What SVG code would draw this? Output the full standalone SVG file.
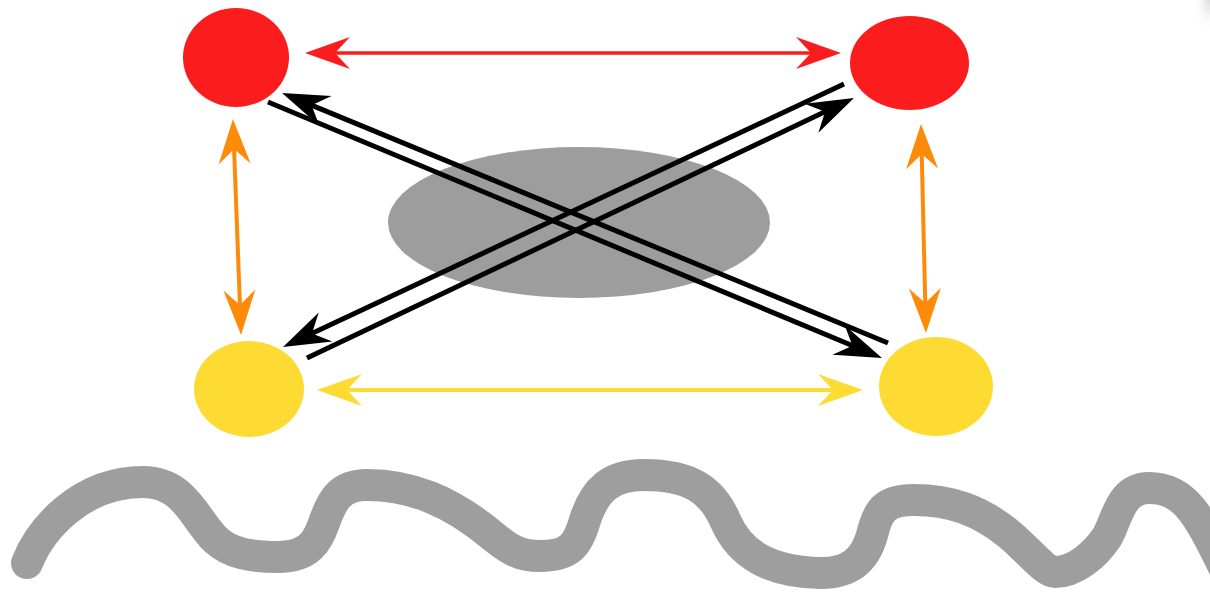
<svg xmlns="http://www.w3.org/2000/svg" width="1210" height="592" viewBox="0 0 1210 592">
  <style>
    .red { fill: #fb1d1d; }
    .yellow { fill: #fddb33; }
    .hub { fill: #9d9d9d; }
    .wave { fill: none; stroke: #9e9e9e; stroke-width: 32; stroke-linecap: round; stroke-linejoin: round; }
    .c-red { stroke: #fb1d1d; stroke-width: 3.5; fill: none; }
    .c-orange { stroke: #fe8a0a; stroke-width: 4; fill: none; }
    .c-yellow { stroke: #fddb33; stroke-width: 4; fill: none; }
    .c-black { stroke: #000; stroke-width: 5; fill: none; }
  </style>
  <defs>
    <marker id="mRed" markerUnits="userSpaceOnUse" viewBox="-50 -20 50 40" markerWidth="50" markerHeight="40" refX="-20" refY="0" orient="auto-start-reverse">
      <path d="M0,0 L-45,-16 L-30,0 L-45,16 Z" fill="#fb1d1d"/>
    </marker>
    <marker id="mOrange" markerUnits="userSpaceOnUse" viewBox="-50 -20 50 40" markerWidth="50" markerHeight="40" refX="-20" refY="0" orient="auto-start-reverse">
      <path d="M0,0 L-45,-16 L-30,0 L-45,16 Z" fill="#fe8a0a"/>
    </marker>
    <marker id="mYellow" markerUnits="userSpaceOnUse" viewBox="-50 -20 50 40" markerWidth="50" markerHeight="40" refX="-20" refY="0" orient="auto-start-reverse">
      <path d="M0,0 L-45,-16 L-30,0 L-45,16 Z" fill="#fddb33"/>
    </marker>
    <marker id="mBlack" markerUnits="userSpaceOnUse" viewBox="-50 -20 50 40" markerWidth="50" markerHeight="40" refX="-20" refY="0" orient="auto">
      <path d="M0,0 L-47,-16 L-32,0 L-47,16 Z" fill="#000"/>
    </marker>
    <radialGradient id="shade" cx="1" cy="0" r="1">
      <stop offset="0" stop-color="#dcdcdc"/>
      <stop offset="1" stop-color="#ffffff" stop-opacity="0"/>
    </radialGradient>
  </defs>

  <rect x="1192" y="0" width="18" height="34" fill="url(#shade)"/>

  <g id="hub">
    <ellipse class="hub" cx="579" cy="222.5" rx="191" ry="75.5"/>
  </g>

  <g id="wave">
    <path class="wave" d="M27,563 C40,530 80,482 143,482 C185,482 195,520 216,540 C230,553 250,557 278,557 C310,557 318,540 324,523 C332,500 340,485 367,485 C410,485 450,500 494,537 C510,550 520,556 540,556 C570,556 578,545 585,520 C595,490 610,475 644,475 C690,475 712,490 725,520 C740,555 770,572 821,573 C850,573 865,560 872,535 C878,510 885,500 914,500 C950,500 980,510 1010,535 C1030,552 1045,572 1055,572 C1075,572 1095,555 1107,537 C1117,520 1120,488 1149,488 C1185,488 1200,515 1230,580"/>
  </g>

  <g id="node-red-left">
    <ellipse class="red" cx="236" cy="57.5" rx="53" ry="49.5"/>
  </g>
  <g id="node-red-right">
    <ellipse class="red" cx="909.5" cy="63" rx="59.5" ry="47"/>
  </g>
  <g id="node-yellow-left">
    <ellipse class="yellow" cx="249" cy="389" rx="55" ry="48"/>
  </g>
  <g id="node-yellow-right">
    <ellipse class="yellow" cx="936" cy="386.5" rx="57" ry="49.5"/>
  </g>

  <g id="connectors">
    <line class="c-red" x1="325" y1="53" x2="821" y2="53" marker-start="url(#mRed)" marker-end="url(#mRed)"/>
    <line class="c-orange" x1="233.7" y1="139" x2="240.3" y2="315" marker-start="url(#mOrange)" marker-end="url(#mOrange)"/>
    <line class="c-orange" x1="921.5" y1="144" x2="925.5" y2="313" marker-start="url(#mOrange)" marker-end="url(#mOrange)"/>
    <line class="c-yellow" x1="337" y1="390" x2="843" y2="390" marker-start="url(#mYellow)" marker-end="url(#mYellow)"/>
    <line class="c-black" x1="268" y1="102" x2="863.5" y2="350.3" marker-end="url(#mBlack)"/>
    <line class="c-black" x1="888" y1="343" x2="300.5" y2="100.6" marker-end="url(#mBlack)"/>
    <line class="c-black" x1="307" y1="358" x2="835.9" y2="106.6" marker-end="url(#mBlack)"/>
    <line class="c-black" x1="844" y1="84" x2="301.1" y2="338.5" marker-end="url(#mBlack)"/>
  </g>
</svg>
